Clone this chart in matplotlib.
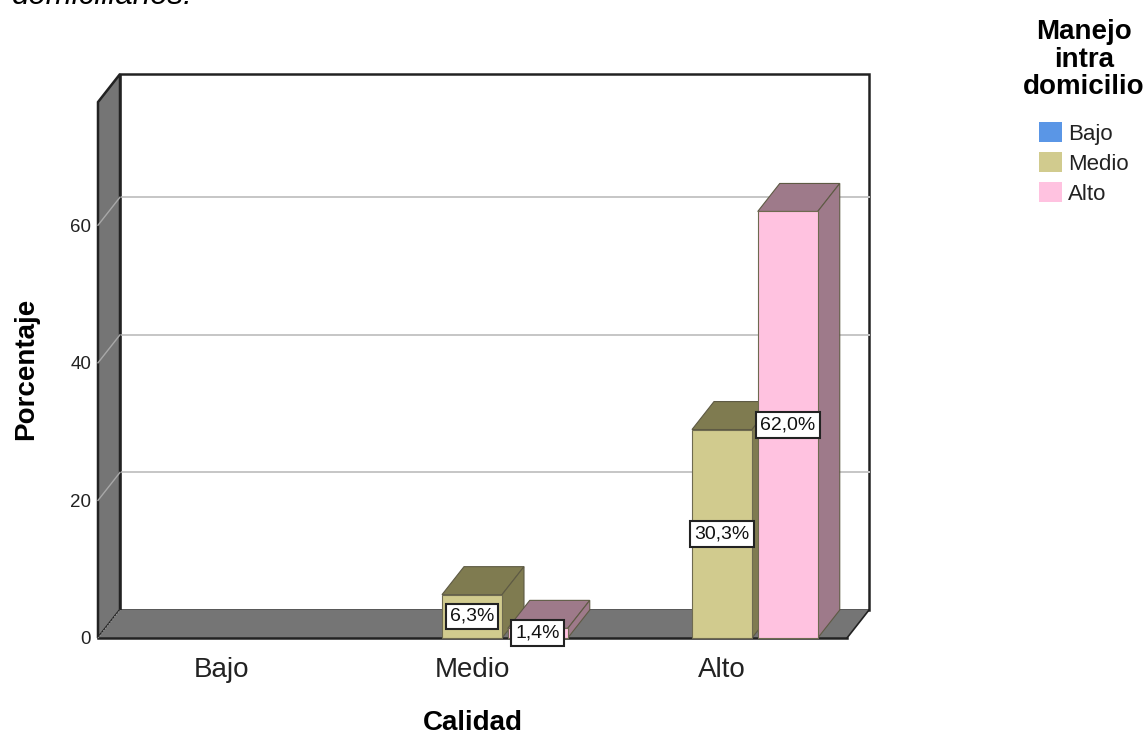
"""3D-style clustered bar chart: Calidad vs. Manejo intra domicilio."""

import matplotlib
matplotlib.use("Agg")
import matplotlib.pyplot as plt
from matplotlib.patches import Patch

categories = ["Bajo", "Medio", "Alto"]
series_names = ["Bajo", "Medio", "Alto"]
series_medio = [0.0, 6.3, 30.3]
series_alto = [0.0, 1.4, 62.0]
y_ticks = [0, 20, 40, 60]

BLUE = "#5a96e6"
OLIVE = "#d1cb8e"
OLIVE_DARK = "#7f7b50"
PINK = "#ffc2e0"
PINK_DARK = "#9e7a8a"
WALL = "#757575"
GRID = "#c6c6c6"

# depth of the fake 3D box, in data units
DX = 0.088
DY = 4.07
X0, X1 = -0.496, 2.5
Y_TOP = 77.9
BAR_W = 0.24

plt.rcParams["font.family"] = ["Liberation Sans", "DejaVu Sans"]

fig = plt.figure(figsize=(11.46, 7.33), dpi=100)
ax = fig.add_axes([98 / 1146, 1 - 638 / 733, 749 / 1146, 564 / 733])
ax.set_xlim(X0, X1)
ax.set_ylim(0, 81.98)
for spine in ax.spines.values():
    spine.set_visible(False)
ax.patch.set_visible(False)


def poly(xs, ys, color, z, edge="#3a3a3a", lw=1.0):
    ax.fill(xs, ys, facecolor=color, edgecolor=edge, linewidth=lw, zorder=z, clip_on=False)


# back wall, side wall and floor
poly([X0 + DX, X1 + DX, X1 + DX, X0 + DX], [DY, DY, Y_TOP + DY, Y_TOP + DY],
     "white", 1, edge="#222222", lw=1.8)
poly([X0, X0 + DX, X0 + DX, X0], [0, DY, Y_TOP + DY, Y_TOP], WALL, 2, edge="#222222", lw=1.8)
poly([X0, X1, X1 + DX, X0 + DX], [0, 0, DY, DY], WALL, 2, edge="none")
ax.plot([X0, X1], [0, 0], color="#222222", lw=1.8, zorder=3, clip_on=False)
ax.plot([X1, X1 + DX], [0, DY], color="#222222", lw=1.2, zorder=3, clip_on=False)
ax.plot([X0, X0 + DX], [0, DY], color="#9a9a9a", lw=0.8, ls=":", zorder=3, clip_on=False)

for v in y_ticks[1:]:
    ax.plot([X0 + DX, X1 + DX], [v + DY, v + DY], color=GRID, lw=1.4, zorder=1.5, clip_on=False)
    ax.plot([X0, X0 + DX], [v, v + DY], color="#a8a8a8", lw=1.0, zorder=2.5, clip_on=False)


def bar3d(center, height, front, dark, z):
    left = center - BAR_W / 2
    right = center + BAR_W / 2
    poly([left, left + DX, right + DX, right], [height, height + DY, height + DY, height],
         dark, z, edge="#5e5a44", lw=0.8)
    poly([right, right + DX, right + DX, right], [0, DY, height + DY, height],
         dark, z, edge="#5e5a44", lw=0.8)
    ax.bar(center, height, BAR_W, color=front, edgecolor="#6e6a50", linewidth=0.8,
           zorder=z + 0.1, clip_on=False)


def value_label(center, height):
    ax.text(center, height / 2, f"{height:.1f}%".replace(".", ","), ha="center", va="center",
            fontsize=14, color="#111111", zorder=20,
            bbox=dict(boxstyle="square,pad=0.22", facecolor="white", edgecolor="#222222", linewidth=1.5))


for i in range(len(categories)):
    if series_medio[i] > 0:
        bar3d(i, series_medio[i], OLIVE, OLIVE_DARK, 5 + i)
        value_label(i, series_medio[i])
    if series_alto[i] > 0:
        bar3d(i + 0.263, series_alto[i], PINK, PINK_DARK, 6 + i)
        value_label(i + 0.263, series_alto[i])

ax.set_xticks(range(len(categories)), categories, fontsize=20, color="#222222")
ax.set_yticks(y_ticks, [str(v) for v in y_ticks], fontsize=13.5, color="#222222")
ax.tick_params(axis="both", length=0)
ax.tick_params(axis="x", pad=14)
ax.tick_params(axis="y", pad=5)
ax.set_xlabel("Calidad", fontsize=20, fontweight="bold", labelpad=19)
ax.set_ylabel("Porcentaje", fontsize=20, fontweight="bold")
ax.yaxis.set_label_coords(-0.079, 0.477)

handles = [Patch(facecolor=c, edgecolor="none") for c in (BLUE, OLIVE, PINK)]
leg = fig.legend(handles, series_names, title="Manejo\nintra\ndomicilio", loc="upper left",
                 bbox_to_anchor=(1023 / 1146, 1 - 19 / 733), frameon=False, fontsize=16,
                 borderpad=0, borderaxespad=0, handlelength=1.0, handleheight=1.0,
                 handletextpad=0.28, labelspacing=0.33, labelcolor="#222222",
                 title_fontproperties={"weight": "bold", "size": 20})
leg.get_title().set_multialignment("center")
leg.get_title().set_linespacing(1.08)
leg._legend_box.sep = 16

# caption line cut off by the top edge
fig.text(12 / 1146, 1 - 4 / 733, "domiciliarios.", fontsize=22.5, style="italic", color="black",
         ha="left", va="baseline")

fig.savefig("out.png", dpi=100, facecolor="white")
